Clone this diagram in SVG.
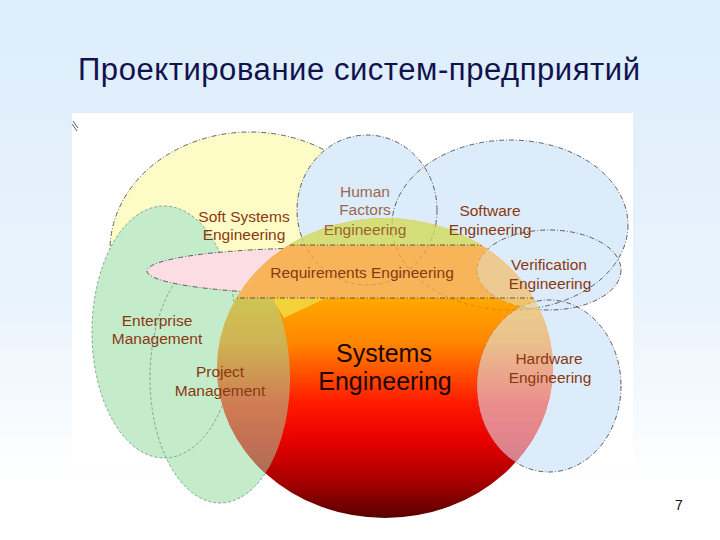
<svg xmlns="http://www.w3.org/2000/svg" xmlns:xlink="http://www.w3.org/1999/xlink" width="720" height="540" viewBox="0 0 720 540">
<style>
.lbl{font-family:"Liberation Sans",Arial,sans-serif;font-size:15.5px;fill:#8a3812;text-anchor:middle}
.big{font-family:"Liberation Sans",Arial,sans-serif;font-size:25px;fill:#1a0800;text-anchor:middle}
.line{fill:none;stroke:#3a3a3a;stroke-width:0.8;stroke-dasharray:5 2 1 2}
.gline{fill:none;stroke:#6f8f7f;stroke-width:0.8;stroke-dasharray:3 2}
.faint{fill:none;stroke:#5a4a3a;stroke-width:0.7;stroke-dasharray:4 3;opacity:0.35}
.blue{fill:#dcecfa}
.green{fill:#c4ecca}
</style>
<defs>
<linearGradient id="bg" x1="0" y1="0" x2="0" y2="1">
<stop offset="0" stop-color="#dcedfb"/>
<stop offset="0.55" stop-color="#e9f3fc"/>
<stop offset="0.9" stop-color="#ffffff"/>
</linearGradient>
<linearGradient id="se" gradientUnits="userSpaceOnUse" x1="0" y1="298" x2="0" y2="518">
<stop offset="0" stop-color="#ffa800"/>
<stop offset="0.2" stop-color="#ff8800"/>
<stop offset="0.48" stop-color="#ff1a00"/>
<stop offset="0.65" stop-color="#e80000"/>
<stop offset="0.85" stop-color="#a00000"/>
<stop offset="1" stop-color="#580000"/>
</linearGradient>
<ellipse id="e-soft" cx="250" cy="250" rx="140" ry="118"/>
<ellipse id="e-human" cx="367" cy="210" rx="70" ry="75"/>
<ellipse id="e-software" cx="510" cy="225" rx="118" ry="85"/>
<ellipse id="e-verif" cx="549" cy="270" rx="72" ry="40"/>
<ellipse id="e-hard" cx="549" cy="386" rx="72" ry="86"/>
<ellipse id="e-ent" cx="164" cy="332" rx="72" ry="126"/>
<ellipse id="e-proj" cx="220" cy="378" rx="70" ry="125"/>
<ellipse id="e-req" cx="320" cy="271" rx="173" ry="23"/>
<ellipse id="e-sys" cx="385" cy="368" rx="168" ry="150"/>
<clipPath id="sph"><use xlink:href="#e-sys"/></clipPath>
</defs>

<rect x="0" y="0" width="720" height="540" fill="url(#bg)"/>
<rect x="72" y="113" width="561" height="357" fill="#ffffff"/>
<path d="M73,121 L78,128 M72,124 L77,131" stroke="#333" stroke-width="0.8" fill="none"/>

<text x="78" y="80" textLength="562" lengthAdjust="spacing" style="font-family:'Liberation Sans',Arial,sans-serif;font-size:31px;fill:#12124e">Проектирование систем-предприятий</text>

<g id="soft"><use xlink:href="#e-soft" fill="#fdfcc6"/><use xlink:href="#e-soft" class="line"/></g>
<g id="human"><use xlink:href="#e-human" class="blue"/></g>
<g id="software"><use xlink:href="#e-software" class="blue"/></g>
<g id="verification"><use xlink:href="#e-verif" class="blue"/></g>
<g id="hardware"><use xlink:href="#e-hard" class="blue"/></g>

<g id="blue-outlines">
<use xlink:href="#e-human" class="line"/>
<use xlink:href="#e-software" class="line"/>
<use xlink:href="#e-verif" class="line"/>
<use xlink:href="#e-hard" class="line"/>
</g>

<g id="enterprise"><use xlink:href="#e-ent" class="green"/></g>
<g id="project"><use xlink:href="#e-proj" class="green"/></g>
<g id="green-outlines">
<use xlink:href="#e-ent" class="gline"/>
<use xlink:href="#e-proj" class="gline"/>
</g>

<g id="requirements">
<use xlink:href="#e-req" fill="#fbdde3"/>
<use xlink:href="#e-req" class="line"/>
</g>

<g id="systems">
<use xlink:href="#e-sys" fill="url(#se)"/>
<g clip-path="url(#sph)">
<use xlink:href="#e-proj" fill="#a0e0a8" opacity="0.5"/>
<use xlink:href="#e-hard" fill="#ddeeff" opacity="0.55"/>
<polygon points="272,298 326,298 284,318" fill="#f3d23a"/>
<rect x="200" y="245" width="380" height="53" fill="#f8b45a"/>
<rect x="200" y="200" width="380" height="45" fill="#d5df7a"/>
<use xlink:href="#e-verif" fill="#e6d8b8" opacity="0.6"/>
<line x1="200" y1="245" x2="580" y2="245" class="line"/>
<line x1="200" y1="298" x2="580" y2="298" class="line"/>
<g class="faint">
<use xlink:href="#e-human"/>
<use xlink:href="#e-software"/>
<use xlink:href="#e-verif"/>
<use xlink:href="#e-hard"/>
</g>
</g>
</g>

<g id="labels">
<text class="lbl" x="244" y="222">Soft Systems</text>
<text class="lbl" x="244" y="240">Engineering</text>
<g opacity="0.75">
<text class="lbl" x="365" y="197">Human</text>
<text class="lbl" x="365" y="215">Factors</text>
<text class="lbl" x="365" y="235">Engineering</text>
</g>
<text class="lbl" x="490" y="216">Software</text>
<text class="lbl" x="490" y="235">Engineering</text>
<text class="lbl" x="362" y="278">Requirements Engineering</text>
<text class="lbl" x="549" y="270">Verification</text>
<text class="lbl" x="550" y="289">Engineering</text>
<text class="lbl" x="157" y="326">Enterprise</text>
<text class="lbl" x="157" y="344">Management</text>
<text class="lbl" x="220" y="377">Project</text>
<text class="lbl" x="220" y="396">Management</text>
<text class="big" x="384" y="362">Systems</text>
<text class="big" x="385" y="390">Engineering</text>
<text class="lbl" x="549" y="364">Hardware</text>
<text class="lbl" x="550" y="383">Engineering</text>
</g>
<text x="679" y="510" style="font-family:'Liberation Sans',Arial,sans-serif;font-size:14px;fill:#111;text-anchor:middle">7</text>
</svg>
